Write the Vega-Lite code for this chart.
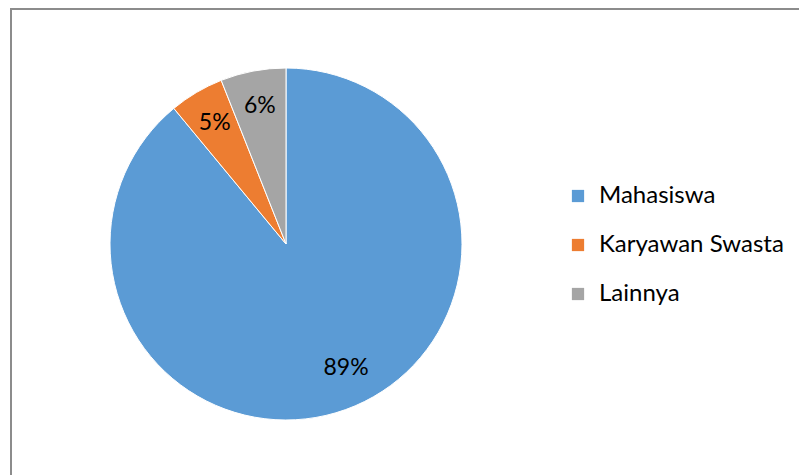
{
  "$schema": "https://vega.github.io/schema/vega-lite/v6.json",
  "width": 800,
  "height": 480,
  "autosize": {"type": "none"},
  "padding": {"left": 11, "top": 9, "right": 0, "bottom": 0},
  "background": "white",
  "config": {
    "view": {"stroke": null},
    "font": "Lato"
  },
  "data": {
    "values": [
      {"kategori": "Mahasiswa", "persen": 89, "label": "89%", "urut": 1},
      {"kategori": "Karyawan Swasta", "persen": 5, "label": "5%", "urut": 2},
      {"kategori": "Lainnya", "persen": 6, "label": "6%", "urut": 3}
    ]
  },
  "layer": [
    {
      "data": {"values": [{"frame": 1}]},
      "mark": {"type": "rect", "x": 0, "y": 0, "x2": {"expr": "width"}, "y2": {"expr": "height"}, "fill": null, "stroke": "#8c8c8c", "strokeWidth": 2},
      "encoding": {}
    },
    {
      "mark": {"type": "arc", "x": 275, "y": 235, "outerRadius": 176, "stroke": "white", "strokeWidth": 1},
      "encoding": {
        "theta": {"field": "persen", "type": "quantitative", "stack": true},
        "order": {"field": "urut", "type": "quantitative"},
        "color": {
          "field": "kategori",
          "type": "nominal",
          "sort": ["Mahasiswa", "Karyawan Swasta", "Lainnya"],
          "scale": {"domain": ["Mahasiswa", "Karyawan Swasta", "Lainnya"], "range": ["#5B9BD5", "#ED7D31", "#A5A5A5"]},
          "legend": {
            "title": null,
            "orient": "none",
            "legendX": 555,
            "legendY": 175,
            "symbolType": "square",
            "symbolSize": 150,
            "symbolStrokeWidth": 0,
            "labelFontSize": 24,
            "labelFont": "Lato",
            "labelColor": "#000000",
            "labelOffset": 9,
            "labelLimit": 400,
            "rowPadding": 25,
            "padding": 0
          }
        }
      }
    },
    {
      "mark": {"type": "text", "x": 275, "y": 235, "radius": 140, "fontSize": 23, "font": "Lato", "color": "#000000", "align": "center", "baseline": "middle"},
      "encoding": {
        "theta": {"field": "persen", "type": "quantitative", "stack": true},
        "order": {"field": "urut", "type": "quantitative"},
        "text": {"condition": {"test": "datum.persen > 50", "value": ""}, "field": "label", "type": "nominal"}
      }
    },
    {
      "mark": {"type": "text", "x": 275, "y": 235, "radius": 136, "dx": 14, "dy": -4, "fontSize": 23, "font": "Lato", "color": "#000000", "align": "center", "baseline": "middle"},
      "encoding": {
        "theta": {"field": "persen", "type": "quantitative", "stack": true},
        "order": {"field": "urut", "type": "quantitative"},
        "text": {"condition": {"test": "datum.persen < 50", "value": ""}, "field": "label", "type": "nominal"}
      }
    }
  ]
}
